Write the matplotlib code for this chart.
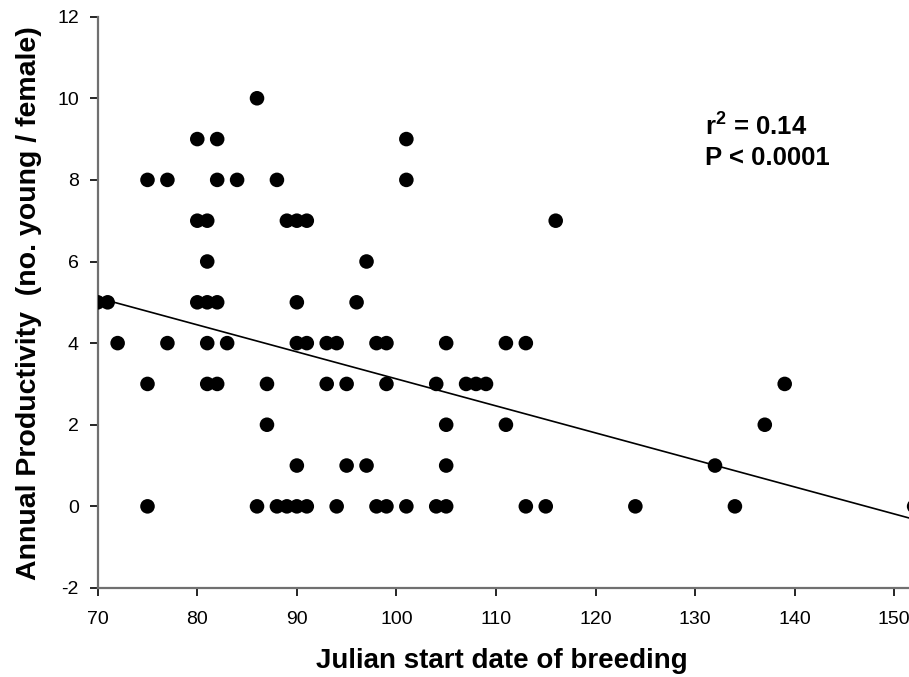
import matplotlib.pyplot as plt
import numpy as np

# Julian start date of breeding vs annual productivity (young / female)
START_DATE = [86,
              80, 82, 101,
              75, 77, 82, 84, 88, 101,
              80, 81, 89, 90, 91, 116,
              81, 97,
              70, 71, 80, 81, 82, 90, 96,
              72, 77, 81, 83, 90, 91, 93, 94, 98, 99, 105, 111, 113,
              75, 81, 82, 87, 93, 95, 99, 104, 107, 108, 109, 139,
              87, 105, 111, 137,
              90, 95, 97, 105, 132,
              75, 86, 88, 89, 90, 91, 94, 98, 99, 101, 104, 105, 113, 115, 124, 134, 152]
PRODUCTIVITY = [10,
                9, 9, 9,
                8, 8, 8, 8, 8, 8,
                7, 7, 7, 7, 7, 7,
                6, 6,
                5, 5, 5, 5, 5, 5, 5,
                4, 4, 4, 4, 4, 4, 4, 4, 4, 4, 4, 4, 4,
                3, 3, 3, 3, 3, 3, 3, 3, 3, 3, 3, 3,
                2, 2, 2, 2,
                1, 1, 1, 1, 1,
                0, 0, 0, 0, 0, 0, 0, 0, 0, 0, 0, 0, 0, 0, 0, 0, 0]

# regression line as drawn in the figure
FIT_INTERCEPT = 5.11   # value at x = 70
FIT_SLOPE = -0.0662

X_TICKS = [70, 80, 90, 100, 110, 120, 130, 140, 150]
Y_TICKS = [-2, 0, 2, 4, 6, 8, 10, 12]

plt.rcParams['font.family'] = ['Liberation Sans', 'DejaVu Sans']
plt.rcParams['axes.unicode_minus'] = False
plt.rcParams['mathtext.fontset'] = 'custom'
plt.rcParams['mathtext.rm'] = 'Liberation Sans'
plt.rcParams['mathtext.bf'] = 'Liberation Sans:bold'

fig = plt.figure(figsize=(9.09, 6.77), dpi=100)
ax = fig.add_axes([0.1075, 0.1315, 0.931, 0.8439])

x = np.array(START_DATE)
y = np.array(PRODUCTIVITY)

xl = np.array([min(START_DATE), max(START_DATE)])
ax.plot(xl, FIT_INTERCEPT + FIT_SLOPE * (xl - 70), color='black', lw=1.2, zorder=2)
ax.scatter(x, y, s=110, color='black', edgecolors='none', zorder=3)

ax.set_xlim(70, 155)
ax.set_ylim(-2, 12)
ax.set_xticks(X_TICKS)
ax.set_yticks(Y_TICKS)

for side in ['top', 'right']:
    ax.spines[side].set_visible(False)
for side in ['left', 'bottom']:
    ax.spines[side].set_color('#707070')
    ax.spines[side].set_linewidth(1.6)
ax.tick_params(direction='out', length=5.5, width=1.2, color='black',
               labelsize=14)
ax.tick_params(axis='x', pad=11)
ax.tick_params(axis='y', pad=8)

ax.set_xlabel('Julian start date of breeding', fontsize=20, fontweight='bold')
ax.xaxis.set_label_coords(0.478, -0.105)
ax.set_ylabel('Annual Productivity  (no. young / female)', fontsize=20.5,
              fontweight='bold')
ax.yaxis.set_label_coords(-0.066, 0.498)

fig.text(0.7756, 0.799, r'$\mathbf{r^2}$ = 0.14', fontsize=18.5,
         fontweight='bold', va='baseline')
fig.text(0.7756, 0.756, 'P < 0.0001', fontsize=18.5,
         fontweight='bold', va='baseline')

plt.savefig('out.png', dpi=100)
